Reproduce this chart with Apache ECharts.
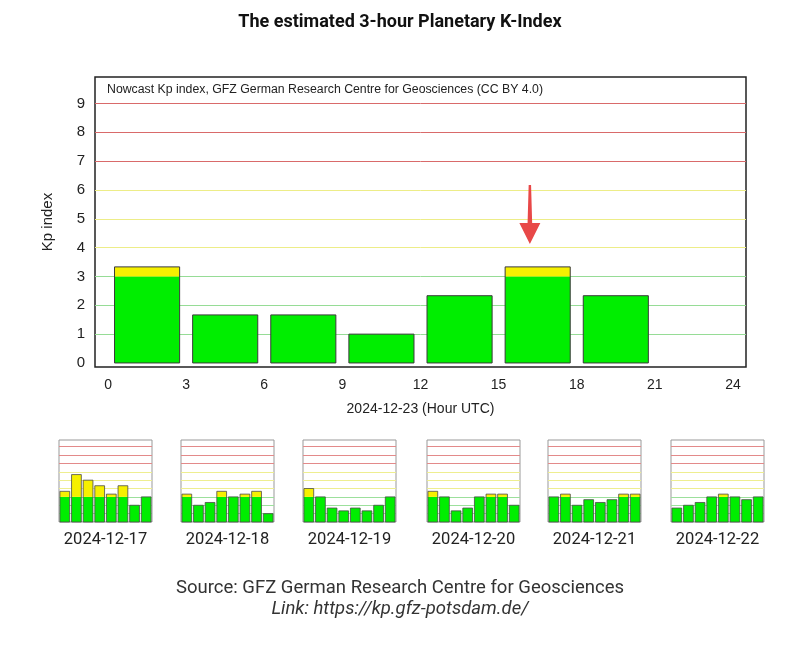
<!DOCTYPE html>
<html>
<head>
<meta charset="utf-8">
<script src="https://cdn.jsdelivr.net/npm/echarts@6/dist/echarts.min.js"></script>
<style>html,body{margin:0;padding:0;background:#fff;}#c{width:800px;height:647px;}</style>
</head>
<body>
<div id="c"></div>
<script>
// ---- data ----
var mainDate = '2024-12-23 (Hour UTC)';
var hourCenters = [1.5, 4.5, 7.5, 10.5, 13.5, 16.5, 19.5];
var kpMain = [3.333, 1.667, 1.667, 1.0, 2.333, 3.333, 2.333];
var hourTicks = [0, 3, 6, 9, 12, 15, 18, 21, 24];
var kpTicks = [0, 1, 2, 3, 4, 5, 6, 7, 8, 9];
var nowHour = 16.2;

var dayLabels = ['2024-12-17', '2024-12-18', '2024-12-19', '2024-12-20', '2024-12-21', '2024-12-22'];
var slots = ['00', '03', '06', '09', '12', '15', '18', '21'];
var kp17 = [3.667, 5.667, 5.0, 4.333, 3.333, 4.333, 2.0, 3.0];
var kp18 = [3.333, 2.0, 2.333, 3.667, 3.0, 3.333, 3.667, 1.0];
var kp19 = [4.0, 3.0, 1.667, 1.333, 1.667, 1.333, 2.0, 3.0];
var kp20 = [3.667, 3.0, 1.333, 1.667, 3.0, 3.333, 3.333, 2.0];
var kp21 = [3.0, 3.333, 2.0, 2.667, 2.333, 2.667, 3.333, 3.333];
var kp22 = [1.667, 2.0, 2.333, 3.0, 3.333, 3.0, 2.667, 3.0];
var dayValues = [kp17, kp18, kp19, kp20, kp21, kp22];
var gridLevels = [1, 2, 3, 4, 5, 6, 7, 8, 9];

// ---- styles ----
var GREEN = '#00ee00', YELLOW = '#f6f000';
var THR = 3;
function levelColor(l) { return l >= 7 ? '#e38a8a' : (l >= 4 ? '#eeee90' : '#9ce09c'); }
function mainLevelColor(l) { return l >= 7 ? '#d96a6a' : (l >= 4 ? '#eded88' : '#96dc96'); }

function kpRenderer(widthUnits, widthFrac, strokeColor, lw) {
  return function (params, api) {
    var x = api.value(0), v = api.value(1);
    var base = api.coord([x, 0]);
    var mid = api.coord([x, Math.min(v, THR)]);
    var top = api.coord([x, v]);
    var w = api.size([widthUnits, 0])[0] * widthFrac;
    var left = base[0] - w / 2;
    var children = [{
      type: 'rect', shape: {x: left, y: mid[1], width: w, height: base[1] - mid[1]},
      style: {fill: GREEN}
    }];
    if (v > THR) {
      children.push({
        type: 'rect', shape: {x: left, y: top[1], width: w, height: mid[1] - top[1]},
        style: {fill: YELLOW}
      });
    }
    children.push({
      type: 'rect', shape: {x: left, y: top[1], width: w, height: base[1] - top[1]},
      style: {fill: null, stroke: strokeColor, lineWidth: lw}
    });
    return {type: 'group', children: children};
  };
}

var chart = echarts.init(document.getElementById('c'), null, {renderer: 'canvas'});

var grids = [{left: 95, top: 77, width: 651, height: 290, show: true, borderColor: '#222', borderWidth: 1.5, backgroundColor: '#fff'}];
var xAxes = [{
  gridIndex: 0, type: 'value', min: -0.5, max: 24.5,
  name: mainDate, nameLocation: 'middle', nameGap: 35,
  nameTextStyle: {fontSize: 14, color: '#222', fontFamily: 'Liberation Sans'},
  axisLine: {show: false}, axisTick: {show: false}, splitLine: {show: false},
  axisLabel: {customValues: hourTicks, fontSize: 14, color: '#222', margin: 11, fontFamily: 'Liberation Sans'}
}];
var yAxes = [{
  gridIndex: 0, type: 'value', min: -0.14, max: 9.92,
  name: 'Kp index', nameLocation: 'middle', nameGap: 40, nameRotate: 90,
  nameTextStyle: {fontSize: 15, color: '#222', fontFamily: 'Liberation Sans'},
  axisLine: {show: false},
  axisTick: {show: false, customValues: gridLevels},
  splitLine: {show: true, lineStyle: {width: 1, color: gridLevels.map(mainLevelColor)}},
  axisLabel: {customValues: kpTicks, fontSize: 15, color: '#222', margin: 10, fontFamily: 'Liberation Sans'}
}];

var series = [];
series.push({
  type: 'custom', xAxisIndex: 0, yAxisIndex: 0, z: 3,
  renderItem: kpRenderer(2.5, 1, '#3a3a3a', 1),
  data: hourCenters.map(function (h, i) { return [h, kpMain[i]]; }),
  markPoint: {
    silent: true, animation: false,
    symbol: 'path://M9.3,0 L11.7,0 L12.8,38 L21,38 L10.5,59 L0,38 L8.2,38 Z',
    symbolSize: [21, 59], itemStyle: {color: '#e84848'}, label: {show: false},
    data: [{coord: [nowHour, 5.15]}]
  }
});

var smallLefts = [59, 181, 303, 427, 548, 671];
dayValues.forEach(function (vals, d) {
  var gi = d + 1;
  grids.push({left: smallLefts[d], top: 440, width: 93, height: 82, show: true, borderColor: '#999', borderWidth: 1, backgroundColor: '#fff'});
  xAxes.push({
    gridIndex: gi, type: 'category', data: slots, boundaryGap: true,
    name: dayLabels[d], nameLocation: 'middle', nameGap: 9,
    nameTextStyle: {fontSize: 16.5, color: '#222', fontFamily: 'Roboto'},
    axisLine: {show: false}, axisTick: {show: false}, axisLabel: {show: false}, splitLine: {show: false}
  });
  yAxes.push({
    gridIndex: gi, type: 'value', min: 0, max: 9.8,
    axisLine: {show: false},
    axisTick: {show: false, customValues: gridLevels},
    axisLabel: {show: false},
    splitLine: {show: true, lineStyle: {width: 1, color: gridLevels.map(levelColor)}}
  });
  series.push({
    type: 'custom', xAxisIndex: gi, yAxisIndex: gi, z: 3,
    renderItem: kpRenderer(1, 0.84, '#4a4a4a', 0.8),
    data: vals.map(function (v, i) { return [i, v]; })
  });
});

chart.setOption({
  backgroundColor: '#fff',
  animation: false,
  title: [
    {text: 'The estimated 3-hour Planetary K-Index', left: 'center', top: 8,
      textStyle: {fontSize: 18, fontWeight: 'bold', color: '#111', fontFamily: 'Roboto'}},
    {text: 'Nowcast Kp index, GFZ German Research Centre for Geosciences (CC BY 4.0)', left: 102, top: 79,
      textStyle: {fontSize: 12.3, fontWeight: 'normal', color: '#222', fontFamily: 'Liberation Sans'}},
    {text: 'Source: GFZ German Research Centre for Geosciences', left: 'center', top: 574,
      textStyle: {fontSize: 18.5, fontWeight: 'normal', color: '#333', fontFamily: 'Roboto'}},
    {text: 'Link: https://kp.gfz-potsdam.de/', left: 'center', top: 595,
      textStyle: {fontSize: 18.5, fontWeight: 'normal', fontStyle: 'italic', color: '#333', fontFamily: 'Roboto'}}
  ],
  grid: grids,
  xAxis: xAxes,
  yAxis: yAxes,
  series: series
});
</script>
</body>
</html>
